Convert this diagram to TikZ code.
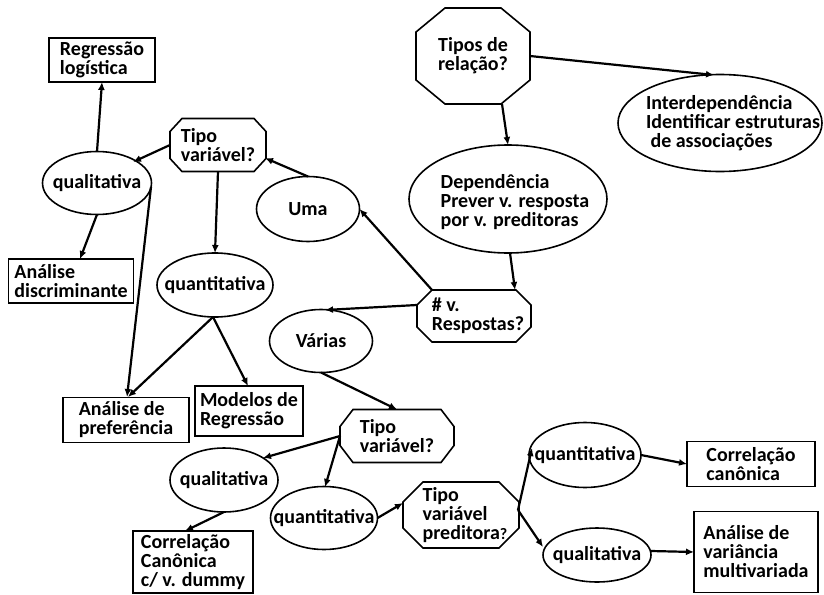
\documentclass[tikz,border=0pt]{standalone}
\usepackage{fontspec}
\setmainfont{Carlito}
\usetikzlibrary{shapes.geometric,arrows.meta}
% octagonal outline around a rectangular node: #1 node, #2 horizontal cut, #3 vertical cut
\newcommand\octframe[3]{%
  \draw[frame] ([xshift=#2]#1.north west) -- ([xshift=-#2]#1.north east)
    -- ([yshift=-#3]#1.north east) -- ([yshift=#3]#1.south east)
    -- ([xshift=-#2]#1.south east) -- ([xshift=#2]#1.south west)
    -- ([yshift=#3]#1.south west) -- ([yshift=-#3]#1.north west) -- cycle;}
\begin{document}
\begin{tikzpicture}[x=1pt,y=-1pt,
  every node/.style={inner sep=0pt, outer sep=0pt, font=\fontsize{20}{19}\selectfont\bfseries},
  frame/.style={line width=1.6pt, line join=miter},
  box/.style={draw, frame, rectangle, align=left},
  oval/.style={draw, frame, ellipse},
  octa/.style={rectangle},
  txt/.style={align=left},
  link/.style={line width=2.2pt, -{Latex[length=8pt,width=7pt]}},
]
\useasboundingbox (0,0) rectangle (824,594);

% decision nodes (octagons)
\node[octa, minimum width=114pt, minimum height=96pt,
  label={[align=center]center:Tipos de\\relação?}] (tipos) at (473,56) {};
\node[octa, minimum width=114pt, minimum height=52pt,
  label={[txt, xshift=4pt]center:\# v.\\Respostas?}] (resp) at (474,316) {};
\node[octa, minimum width=96pt, minimum height=53pt,
  label={[txt]center:Tipo\\variável?}] (tv1) at (218,145) {};
\node[octa, minimum width=114pt, minimum height=53pt,
  label={[txt]center:Tipo\\variável?}] (tv2) at (397,436) {};
\node[octa, minimum width=116pt, minimum height=66pt,
  label={[txt, xshift=4pt]center:Tipo\\variável\\preditora{\fontsize{16}{19}\selectfont ?}}] (tvp) at (461,515) {};
\octframe{tipos}{29pt}{24pt}
\octframe{resp}{15pt}{15pt}
\octframe{tv1}{12pt}{13pt}
\octframe{tv2}{13pt}{17pt}
\octframe{tvp}{20pt}{20pt}

% ellipses
\node[oval, minimum width=204pt, minimum height=97pt,
  label={[txt, xshift=13pt]center:Interdependência\\Identificar estruturas\\\ de associações}] (inter) at (720,123) {};
\node[oval, minimum width=198pt, minimum height=108pt,
  label={[txt, xshift=7pt, yshift=-3pt]center:Dependência\\Prever v. resposta\\por v. preditoras}] (dep) at (508,199) {};
\node[oval, minimum width=103pt, minimum height=65pt, label={center:Uma}] (uma) at (308,209) {};
\node[oval, minimum width=109pt, minimum height=63pt, label={center:qualitativa}] (qual1) at (97,183) {};
\node[oval, minimum width=116pt, minimum height=64pt, label={center:quantitativa}] (quant1) at (215,285) {};
\node[oval, minimum width=103pt, minimum height=63pt, label={center:Várias}] (varias) at (321,341) {};
\node[oval, minimum width=108pt, minimum height=64pt, label={center:qualitativa}] (qual2) at (224,480) {};
\node[oval, minimum width=107pt, minimum height=63pt, label={center:quantitativa}] (quant2) at (324,518) {};
\node[oval, minimum width=112pt, minimum height=65pt, label={center:quantitativa}] (quant3) at (585,455) {};
\node[oval, minimum width=108pt, minimum height=54pt, label={center:qualitativa}] (qual3) at (597,555) {};

% method boxes
\node[box, minimum width=106pt, minimum height=44pt] (reglog) at (102,60) {Regressão\\logística};
\node[box, minimum width=125pt, minimum height=44pt] (discr) at (71,281) {Análise\\discriminante};
\node[box, minimum width=126pt, minimum height=45pt] (pref) at (126,420) {Análise de\\preferência};
\node[box, minimum width=108pt, minimum height=50pt] (modreg) at (249,411) {Modelos de\\Regressão};
\node[box, minimum width=120pt, minimum height=62pt] (ccdummy) at (193,562) {Correlação\\Canônica\\c/ v. dummy};
\node[box, minimum width=128pt, minimum height=45pt] (ccan) at (751,464) {Correlação\\canônica};
\node[box, minimum width=124pt, minimum height=81pt] (manova) at (756,552) {Análise de\\variância\\multivariada};

% connectors
\draw[link] ([shift={(29,48)}]tipos.center) -- (dep.north);
\draw[link] (tipos.east) -- ([shift={(-6,-48)}]inter.center);
\draw[link] ([shift={(2,54)}]dep.center) -- ([shift={(41,-26)}]resp.center);
\draw[link] ([shift={(-42,-26)}]resp.center) -- (uma.east);
\draw[link] ([shift={(-57,-11)}]resp.center) -- ([shift={(4,-31)}]varias.center);
\draw[link] (uma.north) -- ([shift={(47,13)}]tv1.center);
\draw[link] (tv1.west) -- ([shift={(36,-21)}]qual1.center);
\draw[link] (tv1.south) -- (quant1.north);
\draw[link] (qual1.north) -- (reglog.south);
\draw[link] (qual1.south) -- ([shift={(9,-22)}]discr.center);
\draw[link] ([shift={(54,4)}]qual1.center) -- ([shift={(1,-23)}]pref.center);
\draw[link] ([shift={(-2,32)}]quant1.center) -- ([shift={(2,-23)}]pref.center);
\draw[link] ([shift={(-2,32)}]quant1.center) -- ([shift={(-1,-25)}]modreg.center);
\draw[link] (varias.south) -- (tv2.north);
\draw[link] (tv2.west) -- ([shift={(39,-22)}]qual2.center);
\draw[link] (tv2.west) -- ([shift={(1,-31)}]quant2.center);
\draw[link] (qual2.south) -- ([shift={(-8,-31)}]ccdummy.center);
\draw[link] (quant2.east) -- ([shift={(-58,-12)}]tvp.center);
\draw[link] ([shift={(57,-5)}]tvp.center) -- ([shift={(-53,-7)}]quant3.center);
\draw[link] ([shift={(57,-5)}]tvp.center) -- ([shift={(-54,-8)}]qual3.center);
\draw[link] (quant3.east) -- (ccan.west);
\draw[link] ([shift={(0,-4)}]qual3.east) -- (manova.west);
\end{tikzpicture}
\end{document}
